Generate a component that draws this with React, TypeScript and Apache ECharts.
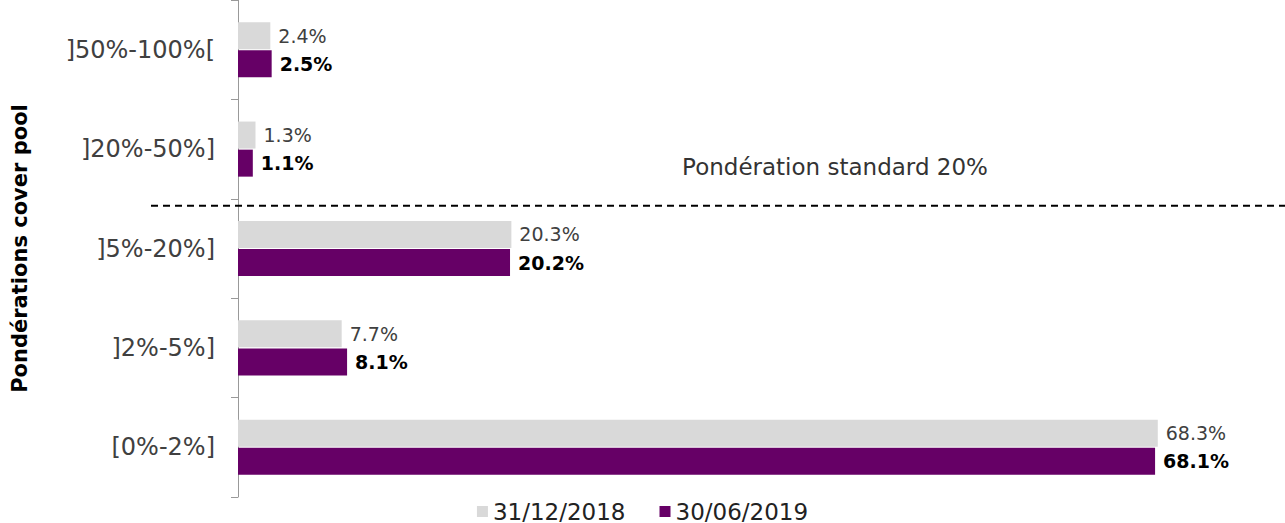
import React, { useEffect, useRef } from "react";
import * as echarts from "echarts";

const categories = ["]50%-100%[", "]20%-50%]", "]5%-20%]", "]2%-5%]", "[0%-2%]"];
const series2018 = [2.4, 1.3, 20.3, 7.7, 68.3];
const series2019 = [2.5, 1.1, 20.2, 8.1, 68.1];
const seriesNames = ["31/12/2018", "30/06/2019"];
const axisTitle = "Pondérations cover pool";
const annotation = "Pondération standard 20%";

const FONT = "DejaVu Sans, Verdana, sans-serif";

export default function App() {
  const ref = useRef<HTMLDivElement>(null);
  useEffect(() => {
    if (!ref.current) return;
    const chart = echarts.init(ref.current, null, { renderer: "svg" });
    const option: any = {
      animation: false,
      textStyle: { fontFamily: FONT },
      grid: { left: 238, right: 37, top: 0, bottom: 26, containLabel: false },
      xAxis: {
        type: "value",
        min: 0,
        max: 75,
        show: false,
        splitLine: { show: false },
      },
      yAxis: {
        type: "category",
        inverse: true,
        data: categories,
        name: axisTitle,
        nameLocation: "middle",
        nameRotate: 90,
        nameGap: 208,
        nameTextStyle: { fontFamily: FONT, fontSize: 21, fontWeight: "bold", color: "#000" },
        axisLine: { show: true, lineStyle: { color: "#999", width: 1 } },
        axisTick: { show: true, length: 7, lineStyle: { color: "#999" } },
        axisLabel: { margin: 23, fontSize: 24, color: "#404040", fontFamily: FONT },
      },
      legend: {
        data: seriesNames,
        bottom: -5,
        left: "center",
        icon: "rect",
        itemWidth: 11,
        itemHeight: 11,
        itemGap: 34,
        textStyle: { fontFamily: FONT, fontSize: 23, color: "#222" },
      },
      series: [
        {
          name: seriesNames[0],
          type: "bar",
          data: series2018,
          barWidth: 27,
          barGap: "4%",
          itemStyle: { color: "#d9d9d9" },
          label: {
            show: true,
            position: "right",
            distance: 8,
            fontFamily: FONT,
            fontSize: 19,
            color: "#404040",
            formatter: (p: any) => p.value.toFixed(1) + "%",
          },
        },
        {
          name: seriesNames[1],
          type: "bar",
          data: series2019,
          barWidth: 27,
          barGap: "4%",
          itemStyle: { color: "#660066" },
          label: {
            show: true,
            position: "right",
            distance: 8,
            fontFamily: FONT,
            fontSize: 19,
            fontWeight: "bold",
            color: "#000",
            formatter: (p: any) => p.value.toFixed(1) + "%",
          },
        },
      ],
    };
    chart.setOption(option);
    const yA = chart.convertToPixel({ yAxisIndex: 0 }, categories[1]) as number;
    const yB = chart.convertToPixel({ yAxisIndex: 0 }, categories[2]) as number;
    const lineY = (yA + yB) / 2 + 7;
    chart.setOption({
      graphic: [
        {
          type: "line",
          shape: { x1: 151, y1: lineY, x2: 1285, y2: lineY },
          style: { stroke: "#000", lineWidth: 2, lineDash: [7, 5] },
          z: 10,
        },
        {
          type: "text",
          x: 835,
          y: lineY - 39,
          style: {
            text: annotation,
            fontFamily: FONT,
            fontSize: 23,
            fill: "#333",
            align: "center",
            verticalAlign: "middle",
          },
        },
      ],
    });
    return () => chart.dispose();
  }, []);
  return (
    <div
      ref={ref}
      style={{ position: "fixed", left: 0, top: 0, width: 1285, height: 523, background: "#fff" }}
    />
  );
}
